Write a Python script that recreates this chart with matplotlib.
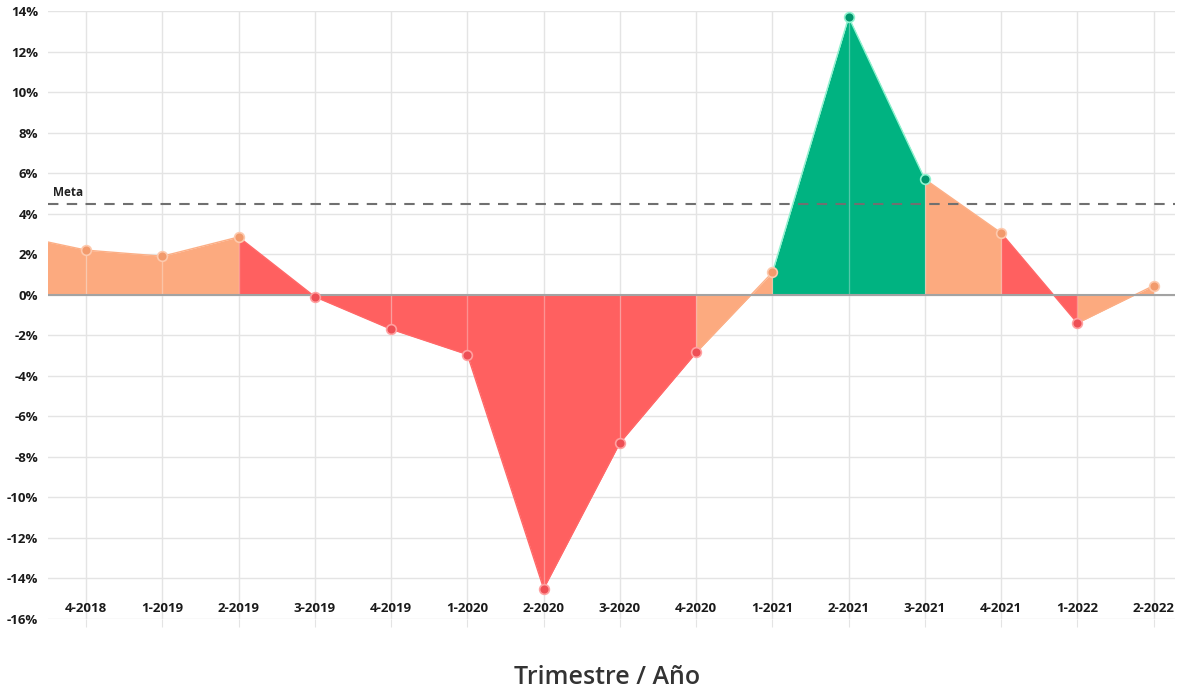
import matplotlib
matplotlib.use("Agg")
import matplotlib.pyplot as plt
import numpy as np

plt.rcParams['font.family'] = ['Open Sans', 'DejaVu Sans']

# Variación trimestral (%) por trimestre / año
trimestres = ['3-2018', '4-2018', '1-2019', '2-2019', '3-2019', '4-2019', '1-2020',
              '2-2020', '3-2020', '4-2020', '1-2021', '2-2021', '3-2021', '4-2021',
              '1-2022', '2-2022']
variacion = [3.0, 2.2, 1.9, 2.85, -0.1, -1.7, -2.95, -14.5, -7.3, -2.85,
             1.1, 13.7, 5.7, 3.05, -1.4, 0.45]
meta = 4.5

# colores: sobre la meta, positivo bajo la meta, negativo
color_alto = '#00b381'
color_medio = '#fcaa7f'
color_bajo = '#ff6060'
borde = {color_alto: '#8ff2cf', color_medio: '#fcaf86', color_bajo: '#ff6868'}
punto = {color_alto: '#00966c', color_medio: '#f29a6c', color_bajo: '#ee4f55'}
aro = {color_alto: '#8ff2cf', color_medio: '#fdc9ad', color_bajo: '#ffa0a0'}


def color_de(v):
    if v > meta:
        return color_alto
    if v > 0:
        return color_medio
    return color_bajo


x = np.arange(len(trimestres)) - 1
y = np.array(variacion)

fig = plt.figure(figsize=(11.79, 6.89), dpi=100)
ax = fig.add_axes([48 / 1179, 1 - 619 / 689, (1175 - 48) / 1179, (619 - 11) / 689])

# relleno por tramo, con el color del punto final
for i in range(len(x) - 1):
    c = color_de(y[i + 1])
    ax.fill_between(x[i:i + 2], y[i:i + 2], 0, color=c, linewidth=0, zorder=2)
    ax.plot(x[i:i + 2], y[i:i + 2], color=borde[c], lw=1, zorder=3)

# líneas claras dentro del área en cada trimestre
for xi, yi in zip(x, y):
    ax.plot([xi, xi], [0, yi], color='white', alpha=0.25, lw=1, zorder=3)

ax.axhline(0, color='#a3a3a3', lw=1.5, zorder=4)
ax.axhline(meta, color='#707070', lw=1.5, ls=(0, (5, 4)), zorder=4)
ax.text(0.004, meta + 0.2, 'Meta', fontsize=8.5, fontweight='bold', color='#222222',
        ha='left', va='bottom', transform=ax.get_yaxis_transform(), zorder=5)

for xi, yi in zip(x, y):
    c = color_de(yi)
    ax.plot(xi, yi, 'o', ms=7, mfc=punto[c], mec=aro[c], mew=1.2, zorder=6)

ax.set_xlim(-0.5, 14.28)
ax.set_ylim(-16, 14)
ax.set_yticks(np.arange(-16, 15, 2))
ax.set_yticklabels([f'{v}%' for v in range(-16, 15, 2)])
ax.set_xticks(x[1:])
ax.set_xticklabels(trimestres[1:])

ax.grid(True, color='#e4e4e4', lw=1, zorder=0)
ax.set_axisbelow(True)
for s in ax.spines.values():
    s.set_visible(False)
ax.tick_params(axis='y', length=0, pad=7, labelsize=9.5, labelcolor='#1a1a1a')
ax.tick_params(axis='x', length=6, color='#e4e4e4', pad=-18, labelsize=9.5,
               labelcolor='#1a1a1a')
for t in ax.get_xticklabels() + ax.get_yticklabels():
    t.set_fontweight('bold')

fig.text(607 / 1179, 1 - 677 / 689, 'Trimestre / Año', fontsize=18, fontweight='semibold',
         color='#333333', ha='center', va='center')

fig.savefig('out.png', dpi=100)
